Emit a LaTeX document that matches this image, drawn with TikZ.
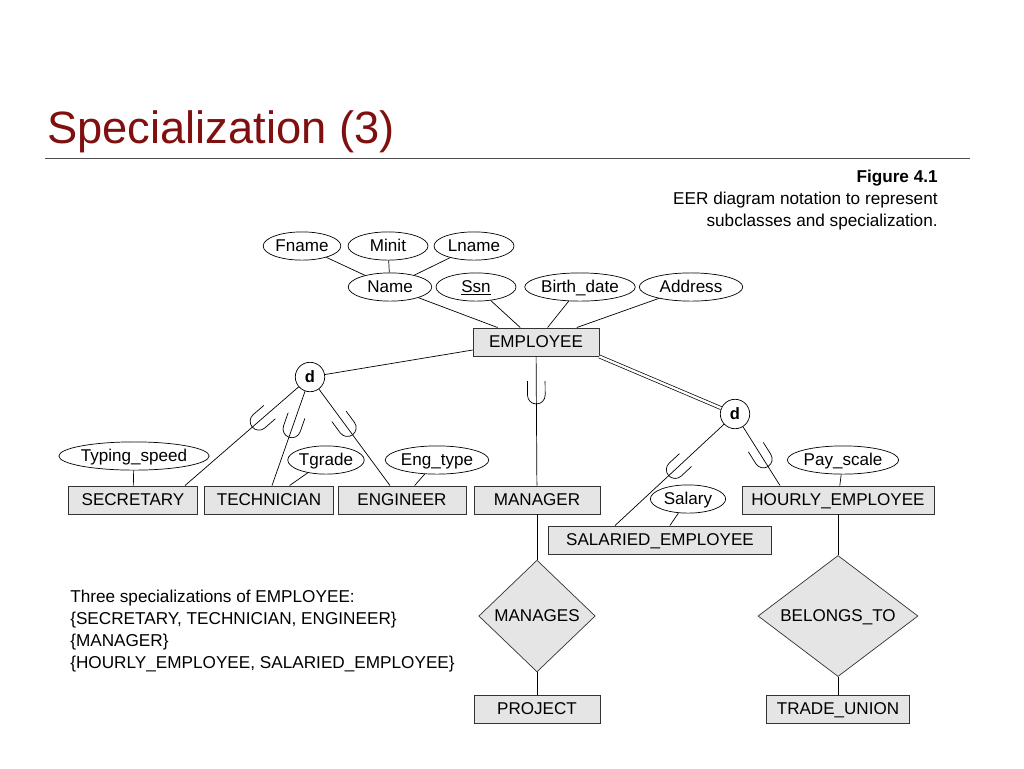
\documentclass[tikz,border=0pt]{standalone}
\usepackage{fontspec}
\setmainfont{Liberation Sans}
\usetikzlibrary{shapes.geometric,decorations.markings}
\definecolor{titlered}{RGB}{128,16,16}

\begin{document}
\begin{tikzpicture}[x=0.85pt,y=-0.85pt, semithick,
    lbl/.style={font=\fontsize{14.5}{17}\selectfont, text height=0.95em, text depth=0pt},
    entity/.style={lbl, draw=black!80, fill=black!10, minimum height=24pt},
    attr/.style={lbl, ellipse, draw, fill=white, inner sep=0pt, minimum height=24pt},
    rel/.style={lbl, diamond, draw=black!80, fill=black!10, aspect=1.05, inner sep=0pt},
    disj/.style={circle, draw, fill=white, minimum size=25pt, inner sep=0pt, font=\bfseries\fontsize{14}{15}\selectfont},
    sub/.style={postaction={decorate}, decoration={markings, mark=at position #1 with
        {\draw (-12pt,7.5pt) -- (0,7.5pt) arc (90:-90:7.5pt) -- (-12pt,-7.5pt);}}}
]
\useasboundingbox (0,0) rectangle (1024,768);

% Title
\node[anchor=base west, text=titlered, font=\fontsize{38.5}{42}\selectfont] (title) at (43,143) {Specialization (3)};
\draw[thin, black!70] (45,158) -- (970,158);

% Caption
\node[anchor=north east, align=right, inner sep=0pt, font=\fontsize{14.6}{18.7}\selectfont] (cap) at (938,170)
    {\textbf{Figure 4.1}\\EER diagram notation to represent\\subclasses and specialization.};

% Attributes of EMPLOYEE
\node[attr, minimum width=66pt] (fname) at (302,246) {Fname};
\node[attr, minimum width=68pt] (minit) at (388,246) {Minit};
\node[attr, minimum width=68pt] (lname) at (474,246) {Lname};
\node[attr, minimum width=71pt] (name) at (390,287) {Name};
\node[attr, minimum width=68pt] (ssn) at (476,287) {\underline{Ssn}};
\node[attr, minimum width=94pt] (bdate) at (580,287) {Birth\_date};
\node[attr, minimum width=88pt] (addr) at (691,287) {Address};

% Entities
\node[entity, minimum width=107pt] (emp) at (536,342) {EMPLOYEE};
\node[entity, minimum width=110pt] (sec) at (133,500) {SECRETARY};
\node[entity, minimum width=110pt] (tech) at (269,500) {TECHNICIAN};
\node[entity, minimum width=109pt] (eng) at (402,500) {ENGINEER};
\node[entity, minimum width=107pt] (mgr) at (537,500) {MANAGER};
\node[entity, minimum width=163pt] (hourly) at (838,500) {HOURLY\_EMPLOYEE};
\node[entity, minimum width=189pt] (sal) at (660,540) {SALARIED\_EMPLOYEE};
\node[entity, minimum width=107pt] (proj) at (537,709) {PROJECT};
\node[entity, minimum width=121pt] (union) at (838,709) {TRADE\_UNION};

% Relationships
\node[rel, minimum width=99pt, minimum height=95pt] (manages) at (537,616) {MANAGES};
\node[rel, minimum width=136pt, minimum height=95pt] (belongs) at (838,616) {BELONGS\_TO};

% Local attributes
\node[attr, minimum width=110pt] (tspeed) at (134,456) {Typing\_speed};
\node[attr, minimum width=65pt] (tgrade) at (326,460) {Tgrade};
\node[attr, minimum width=88pt] (etype) at (437,460) {Eng\_type};
\node[attr, minimum width=64pt] (salary) at (688,499) {Salary};
\node[attr, minimum width=85pt] (pscale) at (843,460) {Pay\_scale};

% Disjointness circles
\node[disj] (d1) at (310,377) {d};
\node[disj] (d2) at (735,414) {d};

% Attribute links
\draw (name) -- (fname);
\draw (name) -- (minit);
\draw (name) -- (lname);
\draw (name) -- (emp);
\draw (ssn) -- (emp);
\draw (bdate) -- (emp);
\draw (addr) -- (emp);
\draw (tspeed) -- (sec);
\draw (tgrade) -- (tech);
\draw (etype) -- (eng);
\draw (salary) -- (sal);
\draw (pscale) -- (hourly);

% Specializations
\draw (emp.west |- 0,350) -- (d1);
\draw[sub=0.35] (d1) -- (sec.north -| 185,0);
\draw[sub=0.4] (d1) -- (tech.north -| 272,0);
\draw[sub=0.4] (d1) -- (eng.north -| 390,0);
\draw[sub=0.3] (emp) -- (mgr);
\draw[double, double distance=2pt] (emp.south east) -- (d2);
\draw[sub=0.45] (d2) -- (sal.north west -| 615,0);
\draw[sub=0.55] (d2) -- (hourly.north -| 780,0);

% Relationship links
\draw (mgr) -- (manages) -- (proj);
\draw (hourly) -- (belongs) -- (union);

% Note
\node[anchor=north west, align=left, font=\fontsize{14.6}{18.7}\selectfont] (note) at (66,586)
    {Three specializations of EMPLOYEE:\\\{SECRETARY, TECHNICIAN, ENGINEER\}\\\{MANAGER\}\\\{HOURLY\_EMPLOYEE, SALARIED\_EMPLOYEE\}};
\end{tikzpicture}
\end{document}
